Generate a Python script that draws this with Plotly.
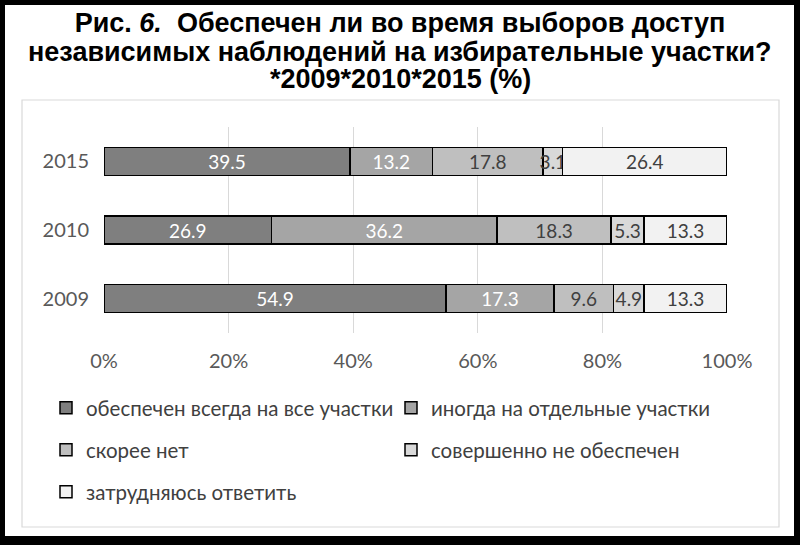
import plotly.graph_objects as go

years = ["2009", "2010", "2015"]
series_names = [
    "обеспечен всегда на все участки",
    "иногда на отдельные участки",
    "скорее нет",
    "совершенно не обеспечен",
    "затрудняюсь ответить",
]
v_always = [54.9, 26.9, 39.5]
v_sometimes = [17.3, 36.2, 13.2]
v_rather_no = [9.6, 18.3, 17.8]
v_not_at_all = [4.9, 5.3, 3.1]
v_hard_to_say = [13.3, 13.3, 26.4]
x_ticks = [0, 20, 40, 60, 80, 100]
x_tick_labels = ["0%", "20%", "40%", "60%", "80%", "100%"]
title_lines = [
    "Рис. <i>6.</i>  Обеспечен ли во время выборов доступ",
    "независимых наблюдений на избирательные участки?",
    "*2009*2010*2015 (%)",
]

values = [v_always, v_sometimes, v_rather_no, v_not_at_all, v_hard_to_say]
colors = ["#7f7f7f", "#a5a5a5", "#bfbfbf", "#d9d9d9", "#f2f2f2"]
text_colors = ["#ffffff", "#ffffff", "#404040", "#404040", "#404040"]
legend_ids = ["legend", "legend2", "legend3", "legend4", "legend5"]
# legend entry positions (marker centre x, row centre y) in pixels
legend_pos = [(75, 410), (420, 410), (75, 452), (420, 452), (75, 494)]

W, H = 800, 545
ML, MR, MT, MB = 104, 73, 127, 212
PW, PH = W - ML - MR, H - MT - MB
LABEL_FONT = "Lato, 'Open Sans', sans-serif"
TITLE_FONT = "'Liberation Sans', Arial, sans-serif"

fig = go.Figure()
for name, vals, c, tc, lg in zip(series_names, values, colors, text_colors, legend_ids):
    fig.add_trace(go.Bar(
        y=years, x=vals, name=name, orientation="h",
        marker=dict(color=c, line=dict(color="#000000", width=1.5)),
        text=[f"{v:.1f}" for v in vals], textposition="inside",
        insidetextanchor="middle", textangle=0,
        textfont=dict(color=tc, size=19, family=LABEL_FONT),
        constraintext="none", cliponaxis=False,
        legend=lg, hoverinfo="x+name",
    ))


def px_x(p):
    return (p - ML) / PW


def px_y(p):
    return (H - MB - p) / PH


def px_rect(x0, y0, x1, y1, **kw):
    return dict(type="rect", xref="paper", yref="paper",
                x0=px_x(x0), x1=px_x(x1), y0=px_y(y1), y1=px_y(y0), **kw)


frame = dict(fillcolor="#000000", line=dict(width=0))
shapes = [
    px_rect(22, 100, 779, 527, line=dict(color="#d9d9d9", width=1.2), layer="below"),
    px_rect(0, 0, 800, 5, **frame),
    px_rect(0, 536, 800, 545, **frame),
    px_rect(0, 0, 5, 545, **frame),
    px_rect(794, 0, 800, 545, **frame),
]

title_font = dict(family=TITLE_FONT, size=27, color="#000000", weight="bold")
annotations = [
    dict(text=title_lines[1], xref="paper", yref="paper", x=px_x(400), y=px_y(52),
         xanchor="center", yanchor="middle", showarrow=False, font=title_font),
    dict(text=title_lines[2], xref="paper", yref="paper", x=px_x(400), y=px_y(79),
         xanchor="center", yanchor="middle", showarrow=False, font=title_font),
]

legend_layouts = {}
for lid, (cx, cy) in zip(legend_ids, legend_pos):
    legend_layouts[lid] = dict(
        orientation="h", xref="container", yref="container",
        xanchor="left", yanchor="middle", bgcolor="rgba(0,0,0,0)",
        x=(cx - 29) / W, y=1 - (cy - 2) / H,
        font=dict(family=LABEL_FONT, size=20.5, color="#404040"),
        itemclick=False, itemdoubleclick=False,
    )

fig.update_layout(
    width=W, height=H,
    margin=dict(l=ML, r=MR, t=MT, b=MB),
    paper_bgcolor="#ffffff", plot_bgcolor="#ffffff",
    barmode="stack", bargap=0.59,
    title=dict(
        text=title_lines[0],
        x=0.5, xanchor="center", xref="container",
        y=1 - 23 / H, yanchor="middle", yref="container",
        font=title_font,
    ),
    xaxis=dict(range=[0, 100], tickvals=x_ticks, ticktext=x_tick_labels,
               showgrid=True, gridcolor="#d9d9d9", gridwidth=1.2,
               zeroline=False, showline=False, ticks="", ticklabelstandoff=14,
               tickfont=dict(family=LABEL_FONT, size=20, color="#595959"),
               fixedrange=True),
    yaxis=dict(categoryorder="array", categoryarray=years,
               showgrid=False, zeroline=False, showline=False, ticks="",
               ticklabelstandoff=14,
               tickfont=dict(family=LABEL_FONT, size=20, color="#595959"),
               fixedrange=True),
    uniformtext=dict(minsize=19, mode="show"),
    showlegend=True,
    shapes=shapes,
    annotations=annotations,
    **legend_layouts,
)

fig.write_html(
    "out.html",
    config={"displayModeBar": False},
    post_script="document.body.style.margin='0';document.body.style.overflow='hidden';",
)
